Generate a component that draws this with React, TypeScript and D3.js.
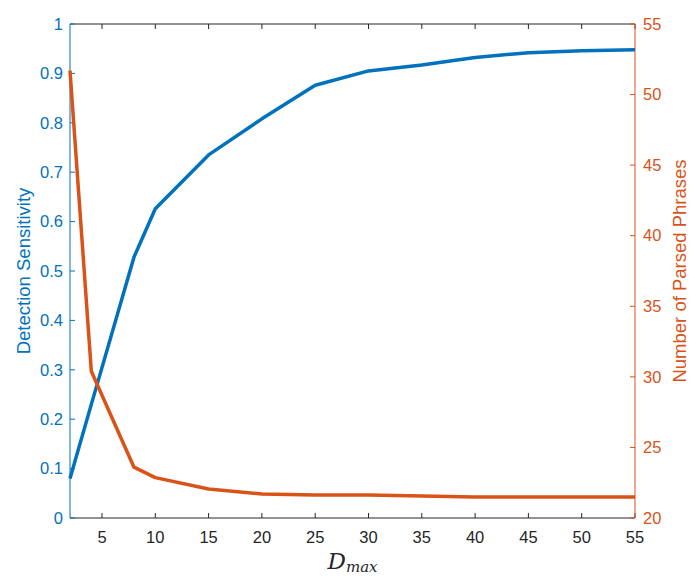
import React from "react";
import * as d3 from "d3";

const dmaxSens = [2, 4, 8, 10, 15, 20, 25, 30, 35, 40, 45, 50, 55];
const sensitivity = [0.08, 0.23, 0.528, 0.626, 0.735, 0.808, 0.876, 0.905, 0.917, 0.932, 0.942, 0.946, 0.948];
const dmaxPhr = [2, 4, 8, 10, 15, 20, 25, 30, 35, 40, 45, 50, 55];
const phrases = [51.7, 30.4, 23.6, 22.86, 22.05, 21.7, 21.63, 21.63, 21.56, 21.48, 21.48, 21.48, 21.48];
const xTicks = [5, 10, 15, 20, 25, 30, 35, 40, 45, 50, 55];
const leftTicks = [0, 0.1, 0.2, 0.3, 0.4, 0.5, 0.6, 0.7, 0.8, 0.9, 1];
const rightTicks = [20, 25, 30, 35, 40, 45, 50, 55];

const BLUE = "#0072BD";
const ORANGE = "#D95319";
const GRAY = "#262626";

export default function App() {
  const W = 700, H = 576;
  const L = 70, R = 635, T = 24, B = 518;
  const x = d3.scaleLinear().domain([2, 55]).range([L, R]);
  const yl = d3.scaleLinear().domain([0, 1]).range([B, T]);
  const yr = d3.scaleLinear().domain([20, 55]).range([B, T]);
  const lineS = d3.line<number>().x((_, i) => x(dmaxSens[i])).y((d) => yl(d));
  const lineP = d3.line<number>().x((_, i) => x(dmaxPhr[i])).y((d) => yr(d));
  const font = "Arial, 'Liberation Sans', Helvetica, sans-serif";
  const tl = 5;
  const fs = 16.5;
  return (
    <svg width={W} height={H} style={{ position: "absolute", left: 0, top: 0 }} fontFamily={font}>
      <rect x={0} y={0} width={W} height={H} fill="#fff" />
      <line x1={L} x2={R} y1={T} y2={T} stroke={GRAY} strokeWidth={1} />
      <line x1={L} x2={R} y1={B} y2={B} stroke={GRAY} strokeWidth={1} />
      {xTicks.map((t) => (
        <g key={t}>
          <line x1={x(t)} x2={x(t)} y1={B} y2={B - tl} stroke={GRAY} />
          <line x1={x(t)} x2={x(t)} y1={T} y2={T + tl} stroke={GRAY} />
          <text x={x(t)} y={B + 25} textAnchor="middle" fontSize={fs} fill={GRAY}>{t}</text>
        </g>
      ))}
      <line x1={L} x2={L} y1={T} y2={B} stroke={BLUE} strokeWidth={1} />
      {leftTicks.map((t) => (
        <g key={t}>
          <line x1={L} x2={L + tl} y1={yl(t)} y2={yl(t)} stroke={BLUE} />
          <text x={L - 7} y={yl(t)} dy="0.35em" textAnchor="end" fontSize={fs} fill={BLUE}>{String(t)}</text>
        </g>
      ))}
      <line x1={R} x2={R} y1={T} y2={B} stroke={ORANGE} strokeWidth={1} />
      {rightTicks.map((t) => (
        <g key={t}>
          <line x1={R} x2={R - tl} y1={yr(t)} y2={yr(t)} stroke={ORANGE} />
          <text x={R + 8} y={yr(t)} dy="0.35em" textAnchor="start" fontSize={fs} fill={ORANGE}>{t}</text>
        </g>
      ))}
      <path d={lineS(sensitivity) || ""} fill="none" stroke={BLUE} strokeWidth={3.5} strokeLinejoin="round" />
      <path d={lineP(phrases) || ""} fill="none" stroke={ORANGE} strokeWidth={3.5} strokeLinejoin="round" />
      <text transform={`translate(24,${(T + B) / 2}) rotate(-90)`} textAnchor="middle" dy="0.35em" fontSize={18.5} fill={BLUE}>Detection Sensitivity</text>
      <text transform={`translate(680,${(T + B) / 2}) rotate(-90)`} textAnchor="middle" dy="0.35em" fontSize={18.5} fill={ORANGE}>Number of Parsed Phrases</text>
      <text x={(L + R) / 2} y={569} textAnchor="middle" fontFamily="'DejaVu Serif', 'Liberation Serif', serif" fontStyle="italic" fill={GRAY}>
        <tspan fontSize={23}>D</tspan>
        <tspan fontSize={15} dy={3}>max</tspan>
      </text>
    </svg>
  );
}
